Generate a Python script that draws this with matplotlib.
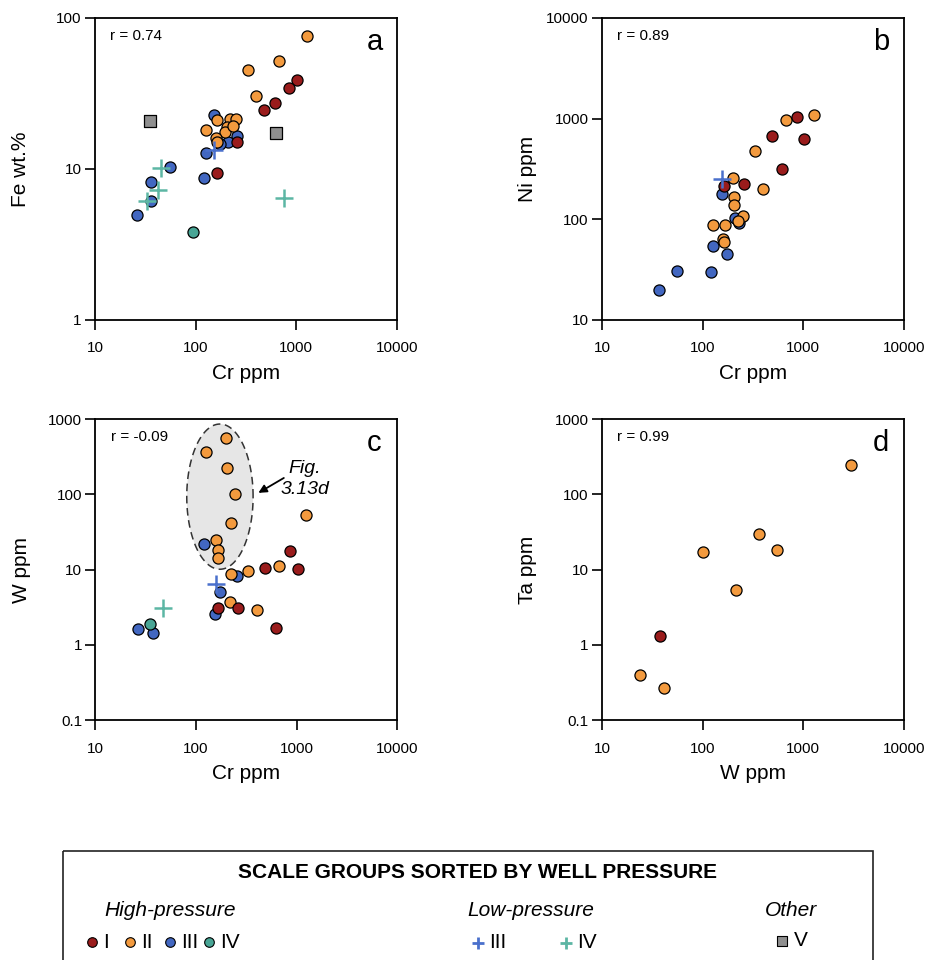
import numpy as np
import matplotlib.pyplot as plt
from matplotlib.patches import Rectangle

plt.rcParams['font.family'] = ['Liberation Sans', 'DejaVu Sans']

# group colours
col_I = '#9a1c1c'
col_II = '#f39a3e'
col_III = '#4267c1'
col_IV = '#48a595'
col_plus_III = '#4a70cc'
col_plus_IV = '#5cb6a4'
col_V = '#8f8f8f'

# --- panel a: Cr ppm vs Fe wt.%
a_I_cr = [1014, 851, 613, 476, 255, 161]
a_I_fe = [38.6, 34.5, 27.4, 24.5, 15.2, 9.4]
a_II_cr = [1265, 667, 330, 397, 126, 164, 219, 250, 203, 195, 233, 159, 161]
a_II_fe = [76, 51.7, 45.5, 30.5, 18.2, 21.2, 21.4, 21.4, 18.9, 17.7, 19.3, 16.0, 15.2]
a_III_cr = [152, 255, 211, 174, 127, 121, 56, 36.2, 36.2, 25.9]
a_III_fe = [22.8, 16.6, 15.2, 14.7, 12.8, 8.7, 10.3, 8.2, 6.1, 4.95]
a_IV_cr = [93.3]
a_IV_fe = [3.83]
a_pIII_cr = [152]
a_pIII_fe = [13.4]
a_pIV_cr = [45.2, 42.5, 32.6, 759]
a_pIV_fe = [10.1, 7.3, 6.1, 6.46]
a_V_cr = [35.4, 622]
a_V_fe = [20.7, 17.3]

# --- panel b: Cr ppm vs Ni ppm
b_I_cr = [871, 1021, 484, 618, 255, 164]
b_I_ni = [1047, 627, 671, 317, 225, 216]
b_II_cr = [1274, 671, 328, 400, 201, 206, 206, 253, 223, 128, 165, 158, 163]
b_II_ni = [1079, 977, 472, 202, 256, 168, 138, 108, 97, 87, 87, 64, 60]
b_III_cr = [154, 211, 229, 128, 176, 56, 122, 36.6]
b_III_ni = [180, 104, 92, 54, 45, 31, 30, 19.7]
b_pIII_cr = [154]
b_pIII_ni = [254]

# --- panel c: Cr ppm vs W ppm
c_I_cr = [860, 1026, 486, 165, 260, 620]
c_I_w = [17.5, 10.3, 10.6, 3.1, 3.08, 1.69]
c_II_cr = [199, 127, 205, 247, 222, 157, 165, 167, 1253, 224, 329, 668, 216, 405]
c_II_w = [553, 368, 221, 101, 41, 24.4, 18.3, 14.1, 53, 8.6, 9.5, 11.0, 3.66, 2.90]
c_III_cr = [121, 258, 175, 153, 26.2, 37]
c_III_w = [22, 8.2, 5.0, 2.59, 1.62, 1.45]
c_IV_cr = [34.8]
c_IV_w = [1.9]
c_pIII_cr = [157]
c_pIII_w = [6.4]
c_pIV_cr = [47.3]
c_pIV_w = [3.1]

# --- panel d: W ppm vs Ta ppm
d_I_w = [37.7]
d_I_ta = [1.32]
d_II_w = [2970, 362, 543, 101, 213, 24, 41.3]
d_II_ta = [245, 29.4, 18.3, 17.1, 5.35, 0.40, 0.27]

# ellipse around the Fig. 3.13d group (log10 centre and half axes)
ell_cx, ell_cy = 173, 93
ell_rx, ell_ry = 0.33, 0.965

fig = plt.figure(figsize=(9.27, 9.6), dpi=100)

ax_a = fig.add_axes([0.1025, 0.6667, 0.3258, 0.3146])
ax_b = fig.add_axes([0.6494, 0.6667, 0.3258, 0.3146])
ax_c = fig.add_axes([0.1030, 0.2500, 0.3253, 0.3135])
ax_d = fig.add_axes([0.6494, 0.2500, 0.3258, 0.3135])

circ = dict(s=64, edgecolors='black', linewidths=0.9, zorder=3)
plus = dict(marker='+', s=150, linewidths=1.8, zorder=4)
xt = [10, 100, 1000, 10000]


def style(ax, ylim, yt, xlabel, ylabel, r, letter):
    ax.set_xscale('log')
    ax.set_yscale('log')
    ax.set_xlim(10, 10000)
    ax.set_ylim(*ylim)
    ax.set_xticks(xt, [str(v) for v in xt])
    ax.set_yticks(yt, [('%g' % v) for v in yt])
    ax.minorticks_off()
    ax.tick_params(direction='out', length=7.5, width=1.2, labelsize=11)
    ax.tick_params(axis='x', pad=8)
    ax.tick_params(axis='y', pad=2)
    for s in ax.spines.values():
        s.set_linewidth(1.3)
    ax.set_xlabel(xlabel, fontsize=15)
    ax.set_ylabel(ylabel, fontsize=15)
    ax.xaxis.set_label_coords(0.5, -0.145)
    ax.yaxis.set_label_coords(-0.215, 0.5)
    ax.text(0.05, 0.94, r, transform=ax.transAxes, fontsize=11, va='center')
    ax.text(0.925, 0.92, letter, transform=ax.transAxes, fontsize=21,
            ha='center', va='center')


# a
ax_a.scatter(a_III_cr, a_III_fe, c=col_III, **circ)
ax_a.scatter(a_IV_cr, a_IV_fe, c=col_IV, **circ)
ax_a.scatter(a_II_cr, a_II_fe, c=col_II, **circ)
ax_a.scatter(a_I_cr, a_I_fe, c=col_I, **circ)
ax_a.scatter(a_pIII_cr, a_pIII_fe, c=col_plus_III, **plus)
ax_a.scatter(a_pIV_cr, a_pIV_fe, c=col_plus_IV, **plus)
ax_a.scatter(a_V_cr, a_V_fe, c=col_V, marker='s', s=72, edgecolors='black',
             linewidths=0.9, zorder=3)
style(ax_a, (1, 100), [1, 10, 100], 'Cr ppm', 'Fe wt.%', 'r = 0.74', 'a')

# b
ax_b.scatter(b_III_cr, b_III_ni, c=col_III, **circ)
ax_b.scatter(b_II_cr, b_II_ni, c=col_II, **circ)
ax_b.scatter(b_I_cr, b_I_ni, c=col_I, **circ)
ax_b.scatter(b_pIII_cr, b_pIII_ni, c=col_plus_III, **plus)
style(ax_b, (10, 10000), [10, 100, 1000, 10000], 'Cr ppm', 'Ni ppm', 'r = 0.89', 'b')

# c
t = np.linspace(0, 2 * np.pi, 200)
ex = 10 ** (np.log10(ell_cx) + ell_rx * np.cos(t))
ey = 10 ** (np.log10(ell_cy) + ell_ry * np.sin(t))
ax_c.fill(ex, ey, facecolor='#e6e6e6', edgecolor='#333333', ls=(0, (5, 3)),
          lw=1.1, zorder=1)
ax_c.scatter(c_III_cr, c_III_w, c=col_III, **circ)
ax_c.scatter(c_IV_cr, c_IV_w, c=col_IV, **circ)
ax_c.scatter(c_II_cr, c_II_w, c=col_II, **circ)
ax_c.scatter(c_I_cr, c_I_w, c=col_I, **circ)
ax_c.scatter(c_pIII_cr, c_pIII_w, c=col_plus_III, **plus)
ax_c.scatter(c_pIV_cr, c_pIV_w, c=col_plus_IV, **plus)
ax_c.annotate('', xy=(395, 100), xytext=(790, 172),
              arrowprops=dict(arrowstyle='-|>', color='black', lw=1.3,
                              mutation_scale=12))
ax_c.text(1216, 160, 'Fig.\n3.13d', fontsize=14, style='italic',
          ha='center', va='center', linespacing=1.35)
style(ax_c, (0.1, 1000), [0.1, 1, 10, 100, 1000], 'Cr ppm', 'W ppm', 'r = -0.09', 'c')

# d
ax_d.scatter(d_II_w, d_II_ta, c=col_II, **circ)
ax_d.scatter(d_I_w, d_I_ta, c=col_I, **circ)
style(ax_d, (0.1, 1000), [0.1, 1, 10, 100, 1000], 'W ppm', 'Ta ppm', 'r = 0.99', 'd')

# legend box drawn in pixel space
lax = fig.add_axes([0, 0, 1, 1], zorder=-1)
lax.set_xlim(0, 927)
lax.set_ylim(960, 0)
lax.axis('off')
lax.add_patch(Rectangle((63, 851), 810, 130, fill=False, lw=1.2,
                        edgecolor='#222222', clip_on=False))
lax.text(478, 873, 'SCALE GROUPS SORTED BY WELL PRESSURE', fontsize=15,
         weight='bold', ha='center', va='center')
lax.text(104, 911, 'High-pressure', fontsize=15, style='italic', va='center')
lax.text(467, 911, 'Low-pressure', fontsize=15, style='italic', va='center')
lax.text(765, 911, 'Other', fontsize=15, style='italic', va='center')

leg_circ = [(92, col_I, 'I'), (130, col_II, 'II'), (170, col_III, 'III'), (209, col_IV, 'IV')]
for x, c, lab in leg_circ:
    lax.scatter([x], [942], s=48, c=c, edgecolors='black', linewidths=0.8)
    lax.text(x + 11, 943, lab, fontsize=15, va='center')
for x, c, lab in [(478, col_plus_III, 'III'), (566, col_plus_IV, 'IV')]:
    lax.scatter([x], [943], marker='+', s=80, c=c, linewidths=2)
    lax.text(x + 11, 943, lab, fontsize=15, va='center')
lax.scatter([782], [941], marker='s', s=60, c=col_V, edgecolors='black', linewidths=0.8)
lax.text(794, 941, 'V', fontsize=15, va='center')

fig.savefig('out.png', dpi=100)
